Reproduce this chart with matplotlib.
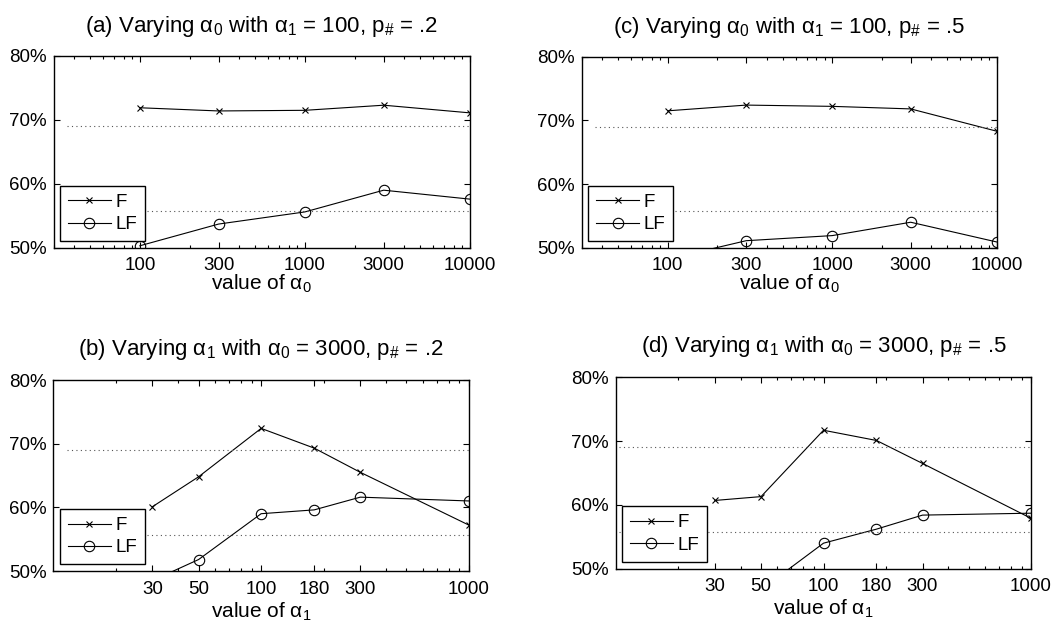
import matplotlib
matplotlib.use("Agg")
import matplotlib.pyplot as plt
from matplotlib.ticker import FixedLocator, FixedFormatter, LogLocator, NullFormatter

plt.rcParams['font.family'] = ['Liberation Sans', 'DejaVu Sans']
plt.rcParams['mathtext.fontset'] = 'custom'
plt.rcParams['mathtext.rm'] = 'Liberation Sans'
plt.rcParams['mathtext.it'] = 'Liberation Sans'
plt.rcParams['mathtext.default'] = 'regular'

# ---- data ----
alpha0_vals = [100, 300, 1000, 3000, 10000]
alpha0_labels = ['100', '300', '1000', '3000', '10000']
alpha1_vals = [30, 50, 100, 180, 300, 1000]
alpha1_labels = ['30', '50', '100', '180', '300', '1000']

a_F = [71.9, 71.4, 71.5, 72.3, 71.1]
a_LF = [50.3, 53.7, 55.6, 59.0, 57.6]

c_F = [71.5, 72.4, 72.2, 71.8, 68.3]
c_LF = [48.2, 51.1, 51.9, 54.0, 50.9]

b_F = [60.1, 64.8, 72.4, 69.3, 65.5, 57.2]
b_LF = [48.5, 51.8, 59.0, 59.6, 61.6, 61.0]

d_F = [60.7, 61.3, 71.7, 70.1, 66.5, 57.9]
d_LF = [46.0, 46.7, 54.0, 56.2, 58.4, 58.7]

ref_lines = [69.0, 55.7]
yticks = [50, 60, 70, 80]
ytick_labels = ['50%', '60%', '70%', '80%']

titles = {
    'a': r'(a) Varying $\alpha_0$ with $\alpha_1$ = 100, $p_{\#}$ = .2',
    'c': r'(c) Varying $\alpha_0$ with $\alpha_1$ = 100, $p_{\#}$ = .5',
    'b': r'(b) Varying $\alpha_1$ with $\alpha_0$ = 3000, $p_{\#}$ = .2',
    'd': r'(d) Varying $\alpha_1$ with $\alpha_0$ = 3000, $p_{\#}$ = .5',
}

W, H = 1061, 621
fig = plt.figure(figsize=(W / 100, H / 100), dpi=100)


def px_axes(left, right, top, bottom):
    return fig.add_axes([left / W, (H - bottom) / H, (right - left) / W, (bottom - top) / H])


FS = 13.5

def draw(ax, x, F, LF, xlim, xt, xtl, title, xlabel, dot_xmin, leg_anchor, title_pad, labelpad):
    ax.set_xscale('log')
    ax.plot(x, F, color='black', lw=0.8, marker='x', ms=5, mew=0.8, label='F')
    ax.plot(x, LF, color='black', lw=0.8, marker='o', ms=7.5, mfc='none', mew=0.8, label='LF')
    for r in ref_lines:
        ax.axhline(r, xmin=dot_xmin, xmax=1, color='#555555', lw=0.8, ls=(0, (1, 3)))
    ax.set_xlim(*xlim)
    ax.set_ylim(50, 80)
    ax.xaxis.set_major_locator(FixedLocator(xt))
    ax.xaxis.set_major_formatter(FixedFormatter(xtl))
    ax.xaxis.set_minor_locator(LogLocator(base=10, subs=range(2, 10)))
    ax.xaxis.set_minor_formatter(NullFormatter())
    ax.set_yticks(yticks)
    ax.set_yticklabels(ytick_labels)
    ax.tick_params(which='both', direction='in', top=True, right=True, labelsize=FS)
    ax.tick_params(axis='x', pad=7)
    ax.tick_params(axis='y', pad=5)
    ax.tick_params(which='major', length=4, width=0.8)
    ax.tick_params(which='minor', length=2.5, width=0.8)
    for s in ax.spines.values():
        s.set_linewidth(1.0)
    ax.set_title(title, fontsize=16, pad=title_pad)
    ax.set_xlabel(xlabel, fontsize=15, labelpad=labelpad)
    leg = ax.legend(loc='lower left', bbox_to_anchor=leg_anchor, borderaxespad=0,
                    fontsize=FS, fancybox=False, framealpha=1, edgecolor='black',
                    handlelength=2.3, handletextpad=0.25, labelspacing=0.28, borderpad=0.42)
    leg.get_frame().set_linewidth(1.0)


ax_a = px_axes(53.5, 470, 56, 247.7)
draw(ax_a, alpha0_vals, a_F, a_LF, (30, 10000), alpha0_vals, alpha0_labels,
     titles['a'], r'value of $\alpha_0$', 0.032, (0.0156, 0.035), 17, -1)

ax_c = px_axes(581.7, 996.7, 56.7, 247.7)
draw(ax_c, alpha0_vals, c_F, c_LF, (30, 10000), alpha0_vals, alpha0_labels,
     titles['c'], r'value of $\alpha_0$', 0.032, (0.0156, 0.035), 17, -1)

ax_b = px_axes(53.3, 469, 380, 571)
draw(ax_b, alpha1_vals, b_F, b_LF, (10, 1000), alpha1_vals, alpha1_labels,
     titles['b'], r'value of $\alpha_1$', 0.032, (0.0156, 0.035), 18, 2)

ax_d = px_axes(616, 1031, 377.3, 568.7)
draw(ax_d, alpha1_vals, d_F, d_LF, (10, 1000), alpha1_vals, alpha1_labels,
     titles['d'], r'value of $\alpha_1$', 0.008, (0.0145, 0.037), 18, 2)

fig.savefig('out.png', dpi=100)
